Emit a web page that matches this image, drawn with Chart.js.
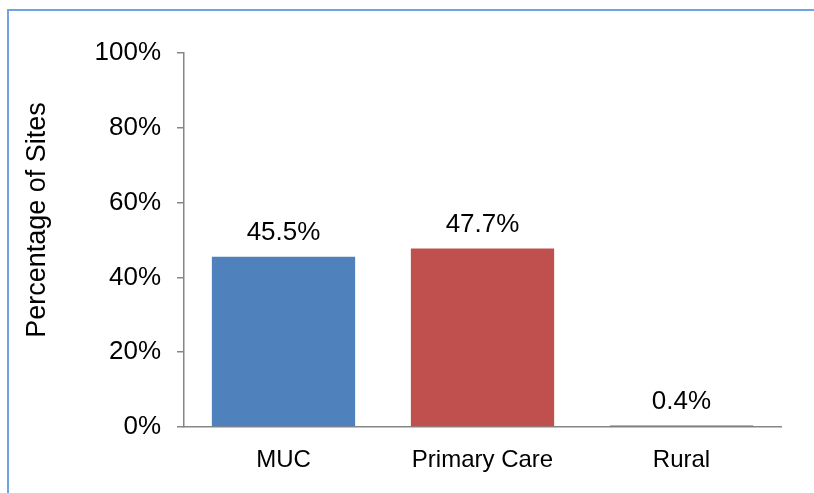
<!DOCTYPE html>
<html>
<head>
<meta charset="utf-8">
<script src="https://cdn.jsdelivr.net/npm/chart.js@4/dist/chart.umd.min.js"></script>
<style>
  html, body { margin: 0; padding: 0; background: #fff; overflow: hidden; }
  #frame { position: absolute; left: 7px; top: 9px; width: 900px; height: 600px; border: 2px solid #6fa4e4; }
  #wrap { position: absolute; left: 0; top: 0; width: 814px; height: 493px; }
</style>
</head>
<body>
<div id="frame"></div>
<div id="wrap"><canvas id="chart"></canvas></div>
<script>
const categories = ["MUC", "Primary Care", "Rural"];
const siteShare = [45.5, 47.7, 0.4];
const barColors = ["#4f81bd", "#c0504d", "#5f6f80"];
const yTicks = [0, 20, 40, 60, 80, 100];
const axisTitle = "Percentage of Sites";

const FONT = "'Liberation Sans', Arial, sans-serif";

// value labels above each bar
const valueLabels = {
  id: "valueLabels",
  afterDatasetsDraw(chart) {
    const ctx = chart.ctx;
    const meta = chart.getDatasetMeta(0);
    ctx.save();
    ctx.font = "26px " + FONT;
    ctx.fillStyle = "#000";
    ctx.textAlign = "center";
    ctx.textBaseline = "middle";
    meta.data.forEach((bar, i) => {
      ctx.fillText(siteShare[i].toFixed(1) + "%", bar.x, bar.y - 24);
    });
    ctx.restore();
  }
};

// rotated y axis title
const yTitle = {
  id: "yTitle",
  afterDraw(chart) {
    const ctx = chart.ctx;
    ctx.save();
    ctx.translate(38, 220);
    ctx.rotate(-Math.PI / 2);
    ctx.font = "27px " + FONT;
    ctx.fillStyle = "#000";
    ctx.textAlign = "center";
    ctx.textBaseline = "middle";
    ctx.fillText(axisTitle, 0, 0);
    ctx.restore();
  }
};

new Chart(document.getElementById("chart"), {
  type: "bar",
  data: {
    labels: categories,
    datasets: [{
      data: siteShare,
      backgroundColor: barColors,
      categoryPercentage: 1,
      barPercentage: 0.72
    }]
  },
  options: {
    responsive: true,
    maintainAspectRatio: false,
    animation: false,
    layout: { padding: { top: 53, right: 33, bottom: 0, left: 0 } },
    plugins: { legend: { display: false }, tooltip: { enabled: false } },
    scales: {
      x: {
        grid: { display: false },
        border: { display: true, color: "#868686", width: 1.5 },
        ticks: { color: "#000", padding: 11, font: { family: FONT, size: 24 } },
        afterFit: (s) => { s.height = 66; }
      },
      y: {
        min: 0,
        max: 100,
        afterBuildTicks: (s) => { s.ticks = yTicks.map(v => ({ value: v })); },
        grid: { drawOnChartArea: false, color: "#868686", tickLength: 7, lineWidth: 1.5 },
        border: { display: true, color: "#868686", width: 1.5 },
        ticks: {
          color: "#000",
          padding: 16,
          font: { family: FONT, size: 26 },
          callback: (v) => v + "%"
        },
        afterFit: (s) => { s.width = 184; }
      }
    }
  },
  plugins: [valueLabels, yTitle]
});
</script>
</body>
</html>
